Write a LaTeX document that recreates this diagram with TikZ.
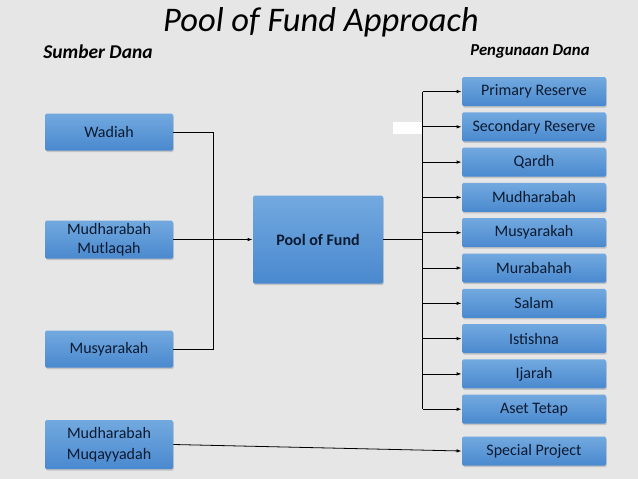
\documentclass[tikz,border=0pt]{standalone}
\usepackage{fontspec}
\setmainfont{Carlito}
\usepackage{xcolor}
\definecolor{slidebg}{HTML}{E6E6E6}
\definecolor{boxtop}{HTML}{72A9DF}
\definecolor{boxbot}{HTML}{4A89CF}
\definecolor{boxtext}{HTML}{0B1A30}
\usetikzlibrary{positioning,arrows.meta,shadows}

\begin{document}
\begin{tikzpicture}[x=1pt, y=-1pt, >={Latex[length=5pt,width=3.5pt]}, line width=0.8pt, node distance=5.5pt,
  fundbox/.style = {rectangle, rounded corners=1.5pt, top color=boxtop, bottom color=boxbot, draw=none,
     text=boxtext, font=\fontsize{16}{18.5}\selectfont, align=center, inner sep=0pt,
     drop shadow={shadow xshift=0.8pt, shadow yshift=-1.5pt, opacity=0.35}},
  src/.style = {fundbox, minimum width=128pt, minimum height=37pt},
  use/.style = {fundbox, minimum width=144pt, minimum height=29pt},
  head/.style = {font=\bfseries\itshape}]

\fill[slidebg] (0,0) rectangle (638,479);
\useasboundingbox (0,0) rectangle (638,479);

% titles
\node (title) at (321,22) {\fontsize{34.5}{38}\selectfont\itshape Pool of Fund Approach};
\node[head, font=\fontsize{19.5}{22}\selectfont\bfseries\itshape] (sumber) at (98,52) {Sumber Dana};
\node[head, font=\fontsize{16.7}{20}\selectfont\bfseries\itshape] (guna) at (530,51) {Pengunaan Dana};

% sumber dana
\node[src] (wad) at (109,132) {Wadiah};
\node[src, minimum height=38pt] (mut) at (109,239.5) {Mudharabah\\Mutlaqah};
\node[src] (msy) at (109,349) {Musyarakah};
\node[src, minimum height=49pt, font=\fontsize{16}{20.5}\selectfont] (muq) at (109,444.5) {Mudharabah\\Muqayyadah};

\node[fundbox, minimum width=130pt, minimum height=88pt, font=\fontsize{16}{18}\selectfont\bfseries] (pool) at (318,239.5) {Pool of Fund};

% pengunaan dana
\node[use] (prim) at (534,91.5) {Primary Reserve};
\node[use] (sec) [below=of prim] {Secondary Reserve};
\node[use] (qar) [below=of sec] {Qardh};
\node[use] (mud) [below=of qar] {Mudharabah};
\node[use] (musy) [below=of mud] {Musyarakah};
\node[use] (mur) [below=of musy] {Murabahah};
\node[use] (sal) [below=of mur] {Salam};
\node[use] (ist) [below=of sal] {Istishna};
\node[use] (ija) [below=of ist] {Ijarah};
\node[use] (aset) [below=of ija] {Aset Tetap};
\node[use] (spec) at (534,451) {Special Project};

\fill[white] (393,122) rectangle (422,134);

\coordinate (jin) at (213,239.5);
\coordinate (jout) at (422.5,239.5);

\draw (wad.east) -| (jin);
\draw (msy.east) -| (jin);
\draw[->] (mut.east) -- (pool.west);

\draw (pool.east) -- (jout);
\draw (jout |- prim.west) -- (jout |- aset.west);
\draw[->] (jout |- prim.west) -- (prim.west);
\draw[->] (jout |- sec.west) -- (sec.west);
\draw[->] (jout |- qar.west) -- (qar.west);
\draw[->] (jout |- mud.west) -- (mud.west);
\draw[->] (jout |- musy.west) -- (musy.west);
\draw[->] (jout |- mur.west) -- (mur.west);
\draw[->] (jout |- sal.west) -- (sal.west);
\draw[->] (jout |- ist.west) -- (ist.west);
\draw[->] (jout |- ija.west) -- (ija.west);
\draw[->] (jout |- aset.west) -- (aset.west);

\draw[->] (muq.east) -- (spec.west);
\end{tikzpicture}
\end{document}
